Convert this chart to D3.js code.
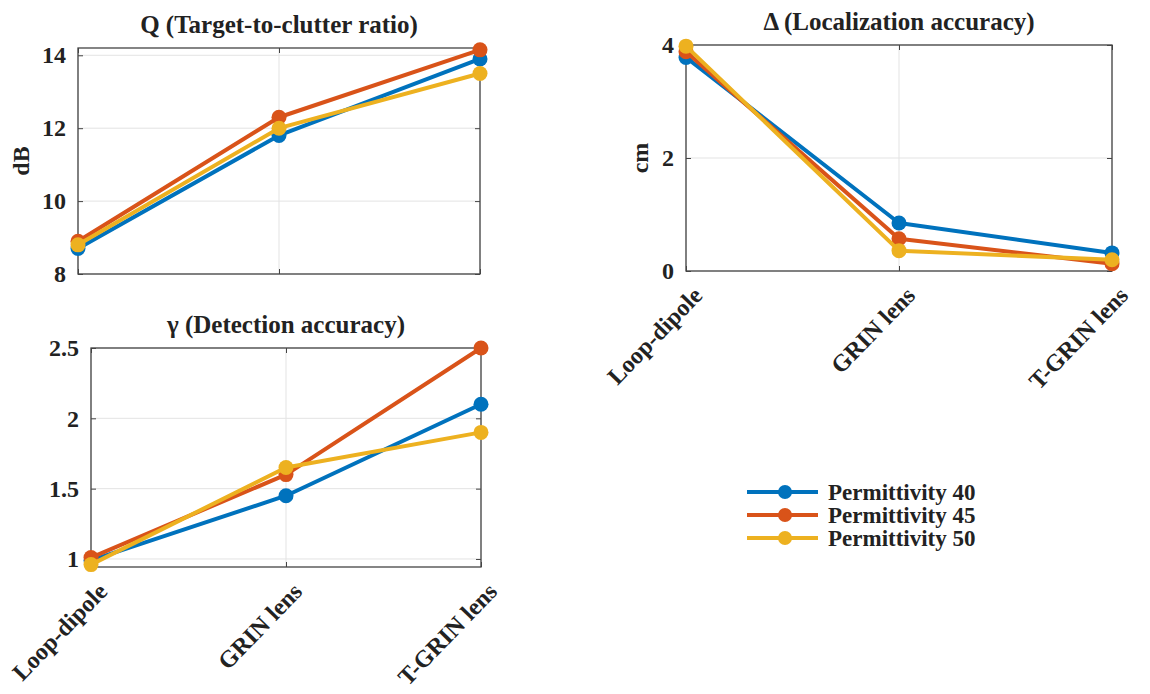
<!DOCTYPE html>
<html>
<head>
<meta charset="utf-8">
<script src="https://cdn.jsdelivr.net/npm/d3@7"></script>
<style>
  body { margin: 0; background: #fff; }
  svg text { font-family: "Liberation Serif", "Times New Roman", serif; font-weight: bold; fill: #222; }
</style>
</head>
<body>
<div id="chart"></div>
<script>
// antenna types along the x axis
const categories = ["Loop-dipole", "GRIN lens", "T-GRIN lens"];
const seriesNames = ["Permittivity 40", "Permittivity 45", "Permittivity 50"];
const colors = ["#0072BD", "#D95319", "#EDB120"];

// Q (target-to-clutter ratio), dB
const qValues = [
  [8.7, 11.8, 13.9],
  [8.9, 12.3, 14.15],
  [8.8, 12.0, 13.5]
];
// Delta (localization accuracy), cm
const deltaValues = [
  [3.78, 0.85, 0.32],
  [3.88, 0.57, 0.13],
  [3.98, 0.36, 0.2]
];
// gamma (detection accuracy)
const gammaValues = [
  [0.99, 1.45, 2.1],
  [1.01, 1.6, 2.5],
  [0.96, 1.65, 1.9]
];

const qTicks = [8, 10, 12, 14];
const deltaTicks = [0, 2, 4];
const gammaTicks = [1, 1.5, 2, 2.5];

const width = 1150;
const height = 694;
const serif = '"Liberation Serif", "Times New Roman", serif';

const svg = d3.select("#chart").append("svg")
  .attr("width", width)
  .attr("height", height);

function drawPanel(opts) {
  const g = svg.append("g");
  const x = d3.scalePoint().domain(categories).range([opts.left, opts.right]);
  const y = d3.scaleLinear().domain(opts.yDomain).range([opts.bottom, opts.top]);

  // grid
  g.selectAll(".gx").data(categories).enter().append("line")
    .attr("x1", d => x(d)).attr("x2", d => x(d))
    .attr("y1", opts.top).attr("y2", opts.bottom)
    .attr("stroke", "#e3e3e3").attr("stroke-width", 1);
  g.selectAll(".gy").data(opts.ticks).enter().append("line")
    .attr("x1", opts.left).attr("x2", opts.right)
    .attr("y1", d => y(d)).attr("y2", d => y(d))
    .attr("stroke", "#e3e3e3").attr("stroke-width", 1);

  // box
  g.append("rect")
    .attr("x", opts.left).attr("y", opts.top)
    .attr("width", opts.right - opts.left).attr("height", opts.bottom - opts.top)
    .attr("fill", "none").attr("stroke", "#444").attr("stroke-width", 1.3);

  // y axis (left + mirrored ticks on right)
  const yAxis = g.append("g")
    .attr("transform", `translate(${opts.left},0)`)
    .call(d3.axisLeft(y).tickValues(opts.ticks).tickSize(-5).tickPadding(12).tickFormat(d3.format("~g")));
  yAxis.select(".domain").remove();
  yAxis.selectAll("line").attr("stroke", "#444");
  yAxis.selectAll("text")
    .style("font-family", serif).style("font-weight", "bold")
    .style("font-size", "24px").attr("fill", "#222");

  const yRight = g.append("g")
    .attr("transform", `translate(${opts.right},0)`)
    .call(d3.axisRight(y).tickValues(opts.ticks).tickSize(-5).tickFormat(""));
  yRight.select(".domain").remove();
  yRight.selectAll("line").attr("stroke", "#444");

  // x ticks bottom and top
  const xAxis = g.append("g")
    .attr("transform", `translate(0,${opts.bottom})`)
    .call(d3.axisBottom(x).tickSize(-5).tickFormat(opts.xLabels ? null : ""));
  xAxis.select(".domain").remove();
  xAxis.selectAll("line").attr("stroke", "#444");
  if (opts.xLabels) {
    xAxis.selectAll("text")
      .style("font-family", serif).style("font-weight", "bold")
      .style("font-size", "24px")
      .attr("fill", "#222")
      .attr("text-anchor", "end")
      .attr("dy", "0.35em")
      .attr("transform", "translate(11,20) rotate(-46)")
      .attr("x", 0).attr("y", 0);
  }
  const xTop = g.append("g")
    .attr("transform", `translate(0,${opts.top})`)
    .call(d3.axisTop(x).tickSize(-5).tickFormat(""));
  xTop.select(".domain").remove();
  xTop.selectAll("line").attr("stroke", "#444");

  // title
  g.append("text")
    .attr("x", (opts.left + opts.right) / 2)
    .attr("y", opts.top - 15)
    .attr("text-anchor", "middle")
    .style("font-family", serif)
    .style("font-size", "25px")
    .text(opts.title);

  // y label
  if (opts.yLabel) {
    g.append("text")
      .attr("transform", `translate(${opts.left - opts.yLabelGap},${(opts.top + opts.bottom) / 2}) rotate(-90)`)
      .attr("text-anchor", "middle")
      .style("font-family", serif)
      .style("font-size", "24px")
      .text(opts.yLabel);
  }

  // lines and markers
  const line = d3.line()
    .x((d, i) => x(categories[i]))
    .y(d => y(d));
  opts.values.forEach((vals, s) => {
    g.append("path")
      .datum(vals)
      .attr("d", line)
      .attr("fill", "none")
      .attr("stroke", colors[s])
      .attr("stroke-width", 4)
      .attr("stroke-linejoin", "round");
    g.selectAll(".pt" + s).data(vals).enter().append("circle")
      .attr("cx", (d, i) => x(categories[i]))
      .attr("cy", d => y(d))
      .attr("r", 7.5)
      .attr("fill", colors[s]);
  });
}

drawPanel({
  title: "Q (Target-to-clutter ratio)", yLabel: "dB", yLabelGap: 49,
  left: 78, right: 480, top: 48, bottom: 274,
  yDomain: [8, 14.2], ticks: qTicks, values: qValues, xLabels: false
});

drawPanel({
  title: "\u0394 (Localization accuracy)", yLabel: "cm", yLabelGap: 38,
  left: 686, right: 1112, top: 45, bottom: 271,
  yDomain: [0, 4], ticks: deltaTicks, values: deltaValues, xLabels: true
});

drawPanel({
  title: "\u03b3 (Detection accuracy)", yLabel: null,
  left: 91, right: 481, top: 348, bottom: 567,
  yDomain: [0.943, 2.5], ticks: gammaTicks, values: gammaValues, xLabels: true
});

// legend
const legend = svg.append("g").attr("transform", "translate(747,492)");
seriesNames.forEach((name, i) => {
  const row = legend.append("g").attr("transform", `translate(0,${i * 23})`);
  row.append("line").attr("x1", 0).attr("x2", 71).attr("y1", 0).attr("y2", 0)
    .attr("stroke", colors[i]).attr("stroke-width", 4);
  row.append("circle").attr("cx", 38).attr("cy", 0).attr("r", 7).attr("fill", colors[i]);
  row.append("text").attr("x", 81).attr("y", 0).attr("dy", "0.35em")
    .style("font-family", serif)
    .style("font-size", "23px").text(name);
});
</script>
</body>
</html>
